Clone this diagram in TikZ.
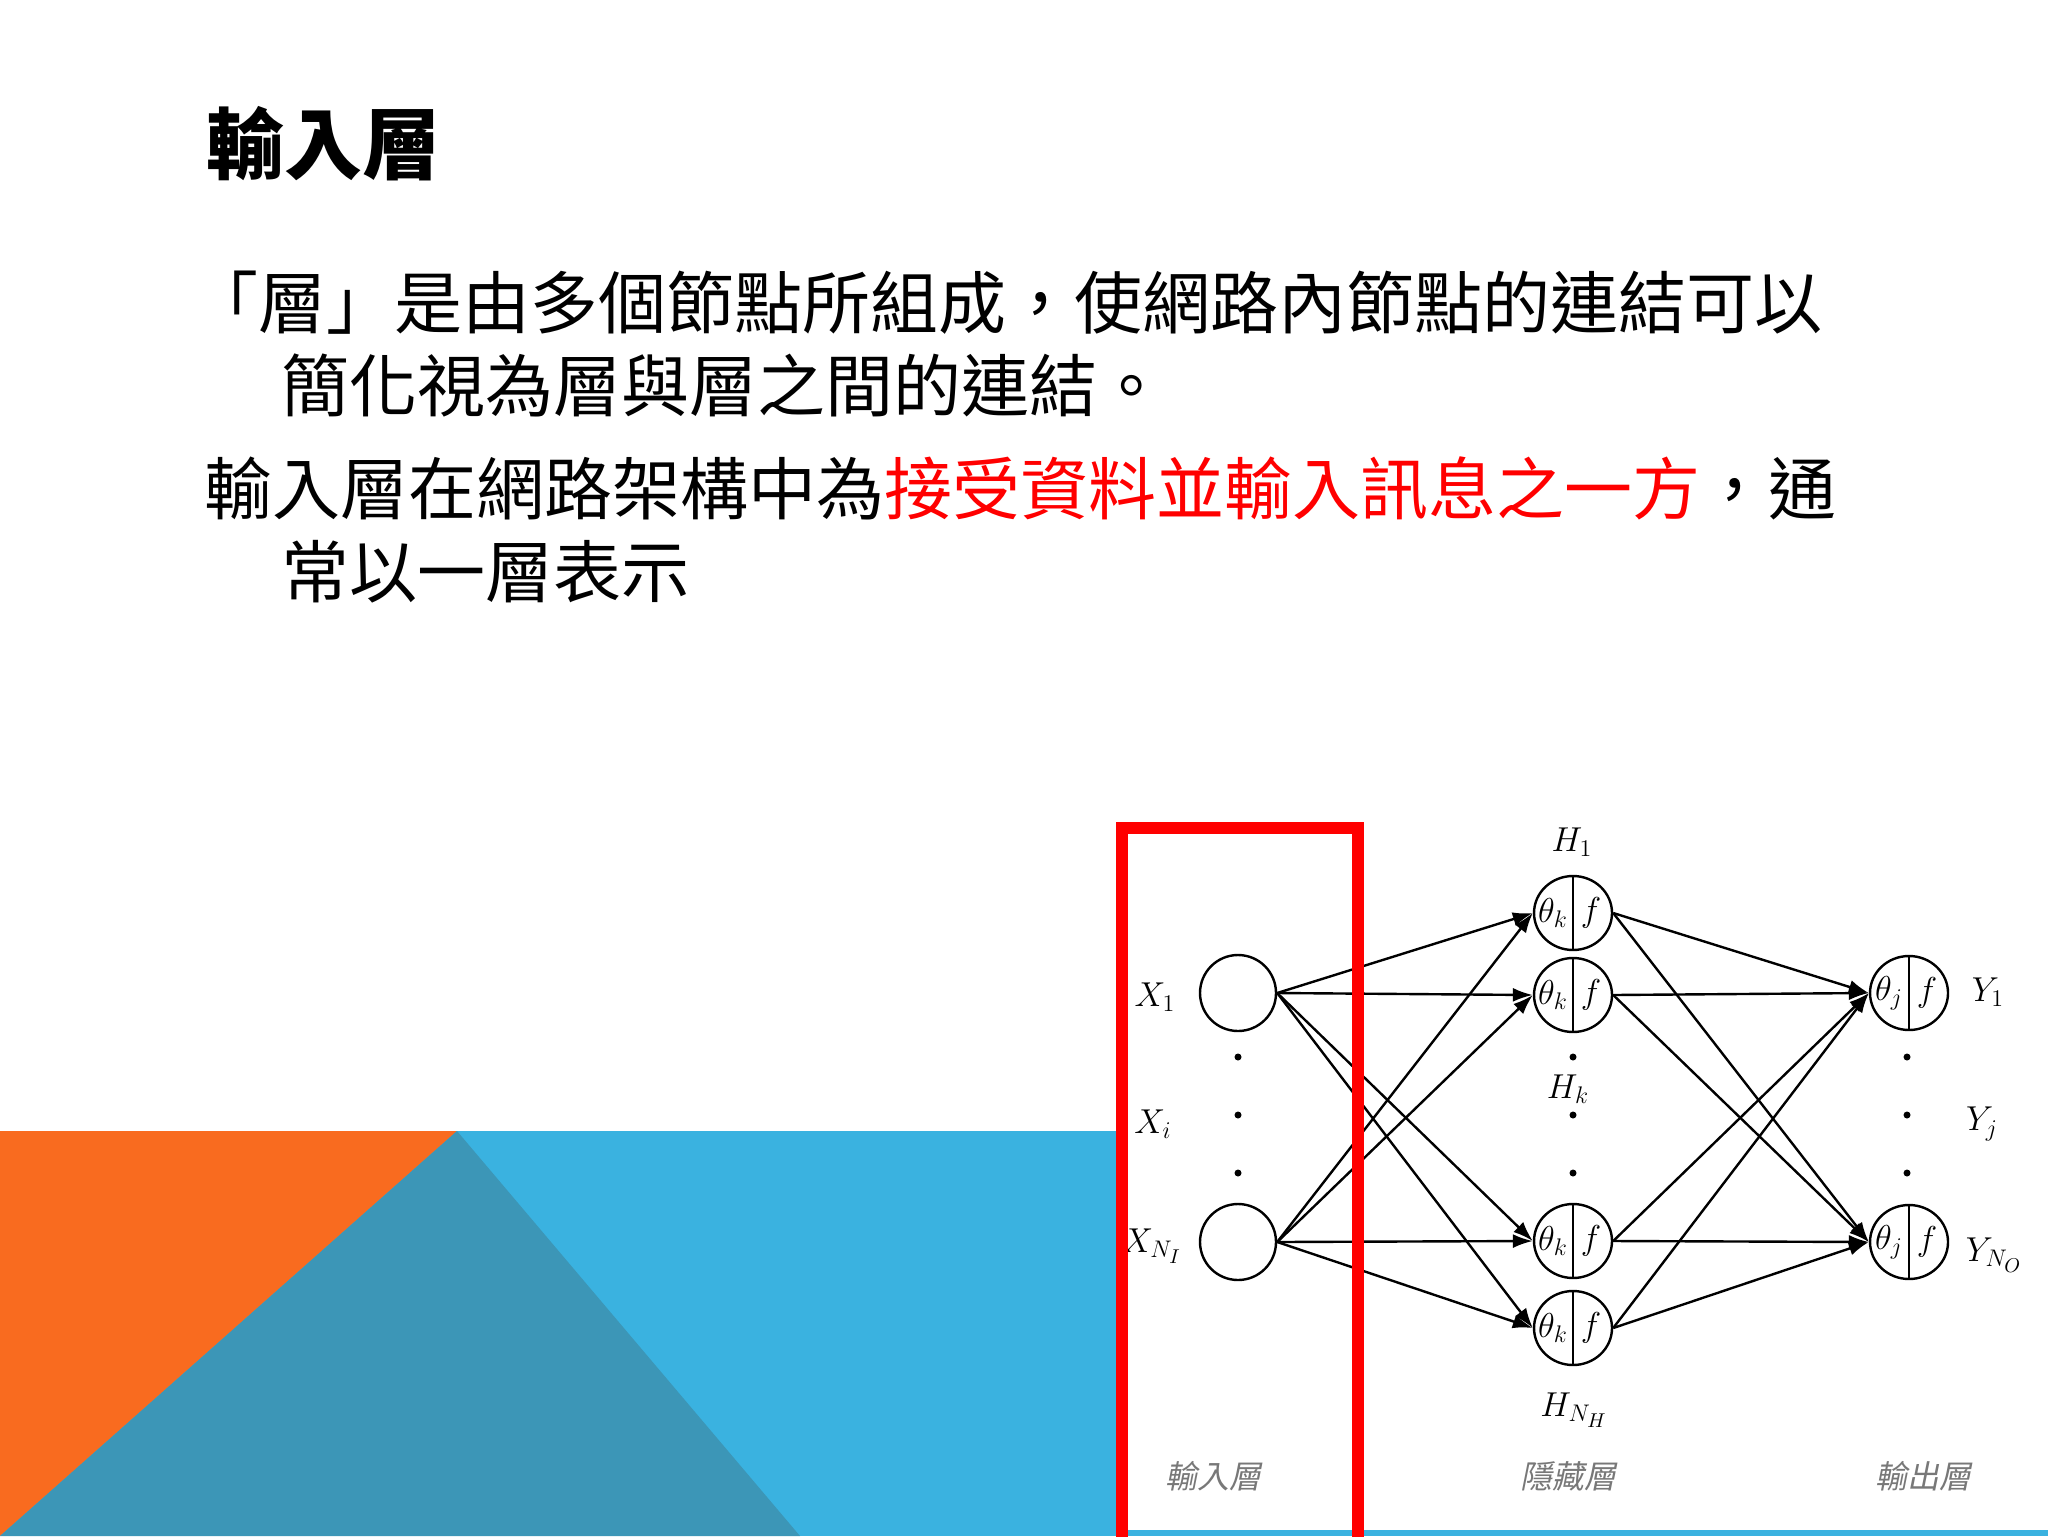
\documentclass[tikz,border=0pt]{standalone}
\usepackage{fontspec}
\usepackage{tikz}
\usetikzlibrary{shapes.geometric,arrows.meta}
\newfontfamily\cjk{Noto Sans CJK TC}
\newfontfamily\cjkslant[FakeSlant=0.2]{Noto Sans CJK TC}
\definecolor{slideorange}{RGB}{249,107,31}
\definecolor{slideblue}{RGB}{58,178,224}
\definecolor{slideteal}{RGB}{60,150,183}
\definecolor{layergray}{RGB}{120,120,120}

\begin{document}
\begin{tikzpicture}[x=0.5pt,y=-0.5pt]
\tikzstyle{every node}=[inner sep=0pt];
\tikzstyle{var}=[font=\fontsize{17.28}{20}\selectfont];
\tikzstyle{body}=[anchor=west,font=\cjk\fontsize{34}{40}\selectfont];
\tikzstyle{layer}=[font=\cjkslant\fontsize{16}{18}\selectfont,text=layergray];
\tikzstyle{inneuron}=[draw,line width=1.2pt,shape=circle,minimum size=38pt];
\tikzstyle{neuron}=[draw,line width=1.2pt,shape=ellipse,minimum width=39pt,minimum height=37pt,
  path picture={\draw[line width=1.2pt] (path picture bounding box.north) -- (path picture bounding box.south);}];
\tikzstyle{hidden}=[neuron,label={[var,xshift=-10pt]center:$\theta_k$},label={[var,xshift=9pt]center:$f$}];
\tikzstyle{output}=[neuron,label={[var,xshift=-10pt]center:$\theta_j$},label={[var,xshift=9pt]center:$f$}];
\tikzstyle{wire}=[line width=1.2pt,-{Latex[length=10pt,width=7pt]}];

\useasboundingbox (0,0) rectangle (2048,1536);
\fill[white] (0,0) rectangle (2048,1536);

% slide background
\fill[slideblue] (0,1131) rectangle (2048,1536);
\fill[slideorange] (0,1131) -- (457,1131) -- (0,1536) -- cycle;
\fill[slideteal] (457,1131) -- (800,1536) -- (0,1536) -- cycle;
\fill[white] (1117,790) rectangle (2048,1530);

% text
\node[anchor=west,font=\cjk\bfseries\fontsize{39}{44}\selectfont] (title) at (206,144) {輸入層};
\node[body] (line1) at (190,303) {「層」是由多個節點所組成，使網路內節點的連結可以};
\node[body] (line2) at (281,385) {簡化視為層與層之間的連結。};
\node[body] (line3) at (204,488) {輸入層在網路架構中為\textcolor{red}{接受資料並輸入訊息之一方}，通};
\node[body] (line4) at (281,572) {常以一層表示};

% input layer
\node[inneuron] (x1) at (1238,993) {};
\node[inneuron] (xn) at (1238,1242) {};
\node[var] (lx1) at (1155,997) {$X_1$};
\node[var] (lxi) at (1153,1124) {$X_i$};
\node[var] (lxn) at (1152,1246) {$X_{N_I}$};

% hidden layer
\node[hidden] (h1) at (1573,913) {};
\node[hidden] (h2) at (1573,995) {};
\node[hidden] (h3) at (1573,1241) {};
\node[hidden] (h4) at (1573,1328) {};
\node[var] (lh1) at (1572,842) {$H_1$};
\node[var] (lhk) at (1568,1089) {$H_k$};
\node[var] (lhn) at (1574,1410) {$H_{N_H}$};

% output layer
\node[output] (y1) at (1909,993) {};
\node[output] (yn) at (1909,1242) {};
\node[var] (ly1) at (1988,992) {$Y_1$};
\node[var] (lyj) at (1982,1124) {$Y_j$};
\node[var] (lyn) at (1994,1255) {$Y_{N_O}$};

% dots
\fill (1238,1057) circle (3.5) (1238,1115) circle (3.5) (1238,1173) circle (3.5);
\fill (1573,1057) circle (3.5) (1573,1115) circle (3.5) (1573,1173) circle (3.5);
\fill (1907,1057) circle (3.5) (1907,1115) circle (3.5) (1907,1173) circle (3.5);

% connections
\draw[wire] (x1.east) -- (h1.west);
\draw[wire] (x1.east) -- (h2.west);
\draw[wire] (x1.east) -- (h3.west);
\draw[wire] (x1.east) -- (h4.west);
\draw[wire] (xn.east) -- (h1.west);
\draw[wire] (xn.east) -- (h2.west);
\draw[wire] (xn.east) -- (h3.west);
\draw[wire] (xn.east) -- (h4.west);
\draw[wire] (h1.east) -- (y1.west);
\draw[wire] (h2.east) -- (y1.west);
\draw[wire] (h3.east) -- (y1.west);
\draw[wire] (h4.east) -- (y1.west);
\draw[wire] (h1.east) -- (yn.west);
\draw[wire] (h2.east) -- (yn.west);
\draw[wire] (h3.east) -- (yn.west);
\draw[wire] (h4.east) -- (yn.west);

% layer names
\node[layer] (inlayer) at (1213,1476) {輸入層};
\node[layer] (hidlayer) at (1568,1476) {隱藏層};
\node[layer] (outlayer) at (1923,1476) {輸出層};

% highlight
\draw[red,line width=6pt] (1122,828) rectangle (1358,1545);
\end{tikzpicture}
\end{document}
